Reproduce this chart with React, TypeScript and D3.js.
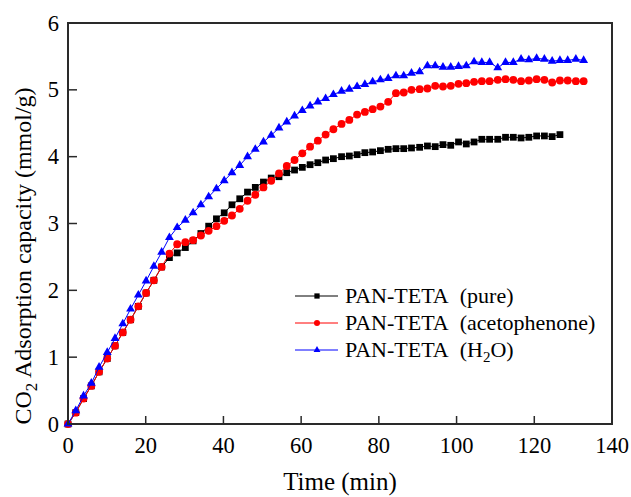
import React from 'react';
import * as d3 from 'd3';

// sampling times (min), shared by all three runs
const times = [0, 2.0, 4.0, 6.0, 8.0, 10.1, 12.1, 14.1, 16.1, 18.1, 20.1, 22.1, 24.1, 26.1, 28.1, 30.2, 32.2, 34.2, 36.2, 38.2,
  40.2, 42.2, 44.2, 46.2, 48.2, 50.3, 52.3, 54.3, 56.3, 58.3, 60.3, 62.3, 64.3, 66.3, 68.3, 70.4, 72.4, 74.4, 76.4, 78.4,
  80.4, 82.4, 84.4, 86.4, 88.4, 90.5, 92.5, 94.5, 96.5, 98.5, 100.5, 102.5, 104.5, 106.5, 108.5, 110.6, 112.6, 114.6, 116.6, 118.6,
  120.6, 122.6, 124.6, 126.6, 128.6, 130.7, 132.7];

const pure = [0, 0.17, 0.38, 0.57, 0.78, 0.98, 1.17, 1.37, 1.56, 1.76,
  1.96, 2.15, 2.35, 2.49, 2.56, 2.64, 2.74, 2.85, 2.96, 3.07,
  3.16, 3.28, 3.37, 3.47, 3.54, 3.62, 3.68, 3.70, 3.76, 3.80,
  3.84, 3.88, 3.91, 3.95, 3.97, 4.00, 4.01, 4.03, 4.06, 4.07,
  4.09, 4.11, 4.12, 4.12, 4.13, 4.14, 4.16, 4.15, 4.18, 4.17,
  4.22, 4.19, 4.22, 4.26, 4.26, 4.26, 4.29, 4.29, 4.28, 4.29,
  4.31, 4.31, 4.30, 4.33];

const acetophenone = [0, 0.17, 0.38, 0.57, 0.78, 0.98, 1.17, 1.37, 1.56, 1.76,
  1.96, 2.15, 2.35, 2.55, 2.69, 2.72, 2.75, 2.82, 2.89, 2.96,
  3.04, 3.12, 3.22, 3.34, 3.43, 3.54, 3.64, 3.75, 3.86, 3.95,
  4.05, 4.15, 4.24, 4.33, 4.41, 4.49, 4.55, 4.63, 4.67, 4.71,
  4.75, 4.82, 4.95, 4.96, 5.00, 5.01, 5.02, 5.06, 5.05, 5.06,
  5.09, 5.10, 5.12, 5.13, 5.13, 5.15, 5.16, 5.15, 5.13, 5.14,
  5.16, 5.15, 5.11, 5.14, 5.14, 5.13, 5.13];

const water = [0, 0.20, 0.42, 0.61, 0.85, 1.07, 1.28, 1.50, 1.72, 1.93,
  2.14, 2.36, 2.57, 2.79, 2.94, 3.05, 3.16, 3.28, 3.40, 3.52,
  3.64, 3.76, 3.87, 4.00, 4.11, 4.22, 4.32, 4.43, 4.52, 4.61,
  4.69, 4.76, 4.82, 4.87, 4.93, 4.98, 5.01, 5.05, 5.08, 5.12,
  5.15, 5.17, 5.21, 5.21, 5.25, 5.27, 5.36, 5.36, 5.34, 5.34,
  5.35, 5.36, 5.42, 5.41, 5.41, 5.33, 5.41, 5.41, 5.46, 5.45,
  5.47, 5.46, 5.43, 5.44, 5.44, 5.46, 5.44];

const xTicks = [0, 20, 40, 60, 80, 100, 120, 140];
const yTicks = [0, 1, 2, 3, 4, 5, 6];

const W = 631, H = 497;
const left = 68, right = 612, top = 23, bottom = 424;
const font = '"Liberation Serif", "Times New Roman", serif';

const series = [
  {key: 'pure', label: '(pure)', values: pure, color: '#000000', shape: d3.symbolSquare, size: 46},
  {key: 'ace', label: '(acetophenone)', values: acetophenone, color: '#ff0000', shape: d3.symbolCircle, size: 48},
  {key: 'h2o', label: 'H2O', values: water, color: '#0000ff', shape: d3.symbolTriangle, size: 34},
];

export default function App() {
  const x = d3.scaleLinear().domain([0, 140]).range([left, right]);
  const y = d3.scaleLinear().domain([0, 6]).range([bottom, top]);

  const line = d3.line<number>()
    .x((d, i) => x(times[i]))
    .y(d => y(d));

  return (
    <svg width={W} height={H} style={{position: 'absolute', left: 0, top: 0}} fontFamily={font}>
      <rect width={W} height={H} fill="#fff"/>

      {series.map(s => {
        const sym = d3.symbol().type(s.shape).size(s.size);
        return (
          <g key={s.key}>
            <path d={line(s.values) || ''} fill="none" stroke={s.color} strokeWidth={1}/>
            {s.values.map((v, i) => (
              <path key={i} d={sym() || ''} fill={s.color}
                    transform={`translate(${x(times[i])},${y(v)})`}/>
            ))}
          </g>
        );
      })}

      {/* frame */}
      <rect x={left} y={top} width={right - left} height={bottom - top} fill="none" stroke="#2a2a2a" strokeWidth={2}/>

      {/* x axis */}
      {xTicks.map(t => (
        <g key={t}>
          <line x1={x(t)} x2={x(t)} y1={bottom} y2={bottom - 8} stroke="#2a2a2a" strokeWidth={1.5}/>
          <text x={x(t)} y={453} textAnchor="middle" fontSize={22.5}>{t}</text>
        </g>
      ))}
      <text x={340} y={490} textAnchor="middle" fontSize={25}>Time (min)</text>

      {/* y axis */}
      {yTicks.map(t => (
        <g key={t}>
          <line x1={left} x2={left + 9} y1={y(t)} y2={y(t)} stroke="#2a2a2a" strokeWidth={1.5}/>
          <text x={59} y={y(t) + 7.5} textAnchor="end" fontSize={22.5}>{t}</text>
        </g>
      ))}
      <text transform="translate(31,256) rotate(-90)" textAnchor="middle" fontSize={24}>
        CO<tspan dy={6} fontSize={17}>2</tspan><tspan dy={-6}> Adsorption capacity (mmol/g)</tspan>
      </text>

      {/* legend */}
      {series.map((s, i) => {
        const ly = 296 + i * 27;
        const sym = d3.symbol().type(s.shape).size(s.size * 0.6);
        return (
          <g key={s.key}>
            <line x1={295} x2={338} y1={ly} y2={ly} stroke={s.color} strokeWidth={1}/>
            <path d={sym() || ''} fill={s.color} transform={`translate(317,${ly})`}/>
            <text x={345} y={ly + 7} fontSize={22} style={{whiteSpace: 'pre'}}>
              {s.key === 'h2o'
                ? <>PAN-TETA{'\u00a0\u00a0'}(H<tspan dy={5} fontSize={15}>2</tspan><tspan dy={-5}>O)</tspan></>
                : <>PAN-TETA{'\u00a0\u00a0'}{s.label}</>}
            </text>
          </g>
        );
      })}
    </svg>
  );
}
